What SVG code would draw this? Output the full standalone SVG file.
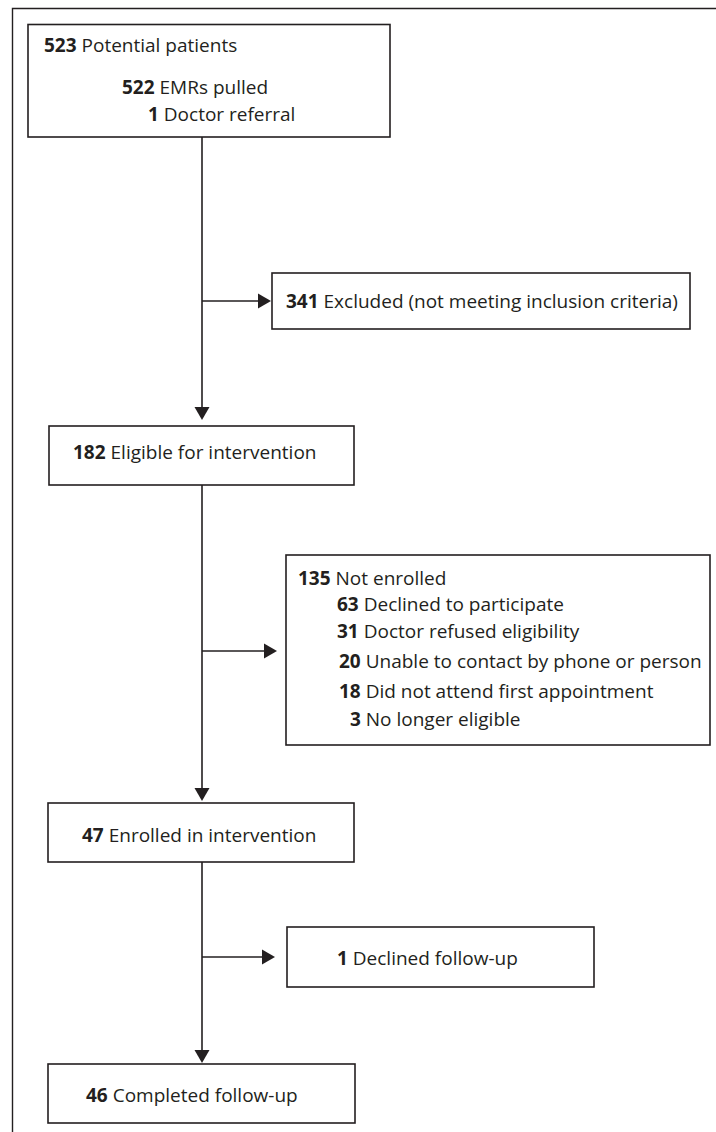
<svg xmlns="http://www.w3.org/2000/svg" width="716" height="1132" viewBox="0 0 716 1132">
<style>
  .box { fill: #ffffff; stroke: #231f20; stroke-width: 1.6; }
  .frame { fill: none; stroke: #231f20; stroke-width: 1.4; }
  .line { fill: none; stroke: #231f20; stroke-width: 1.6; }
  .head { fill: #231f20; stroke: none; }
  text { font-family: "Open Sans", "Liberation Sans", sans-serif; font-size: 19px; fill: #231f20; }
  .b { font-weight: bold; }
</style>
<rect x="0" y="0" width="716" height="1132" fill="#ffffff"/>
<path class="frame" d="M12.5 1132 V8.5 H716"/>

<g id="connectors">
  <path class="line" d="M202 137 V412"/>
  <polygon class="head" points="194.5,407 209.5,407 202,420"/>
  <path class="line" d="M202 485 V790"/>
  <polygon class="head" points="194.5,788 209.5,788 202,801"/>
  <path class="line" d="M202 862 V1050"/>
  <polygon class="head" points="194.5,1050 209.5,1050 202,1063"/>
  <path class="line" d="M202 301 H262"/>
  <polygon class="head" points="258,293.5 258,308.5 271,301"/>
  <path class="line" d="M202 651 H268"/>
  <polygon class="head" points="264,643.5 264,658.5 277,651"/>
  <path class="line" d="M202 957 H265"/>
  <polygon class="head" points="262,949.5 262,964.5 275,957"/>
</g>

<g id="n523">
  <rect class="box" x="28" y="24.5" width="362" height="112.5"/>
  <text x="44" y="52"><tspan class="b">523</tspan> Potential patients</text>
  <text x="122" y="94"><tspan class="b">522</tspan> EMRs pulled</text>
  <text x="148" y="121"><tspan class="b">1</tspan> Doctor referral</text>
</g>

<g id="n341">
  <rect class="box" x="272" y="273" width="418" height="56"/>
  <text x="286" y="308"><tspan class="b">341</tspan> Excluded (not meeting inclusion criteria)</text>
</g>

<g id="n182">
  <rect class="box" x="49" y="426" width="305" height="59"/>
  <text x="73" y="459"><tspan class="b">182</tspan> Eligible for intervention</text>
</g>

<g id="n135">
  <rect class="box" x="286" y="555" width="424" height="190"/>
  <text x="298" y="585"><tspan class="b">135</tspan> Not enrolled</text>
  <text x="337" y="611"><tspan class="b">63</tspan> Declined to participate</text>
  <text x="337" y="638"><tspan class="b">31</tspan> Doctor refused eligibility</text>
  <text x="339" y="668"><tspan class="b">20</tspan> Unable to contact by phone or person</text>
  <text x="339" y="698"><tspan class="b">18</tspan> Did not attend first appointment</text>
  <text x="350" y="726"><tspan class="b">3</tspan> No longer eligible</text>
</g>

<g id="n47">
  <rect class="box" x="48" y="803" width="306" height="59"/>
  <text x="82" y="842"><tspan class="b">47</tspan> Enrolled in intervention</text>
</g>

<g id="n1">
  <rect class="box" x="287" y="927" width="307" height="60"/>
  <text x="337" y="965"><tspan class="b">1</tspan> Declined follow-up</text>
</g>

<g id="n46">
  <rect class="box" x="48" y="1064" width="307" height="59"/>
  <text x="86" y="1102"><tspan class="b">46</tspan> Completed follow-up</text>
</g>
</svg>
